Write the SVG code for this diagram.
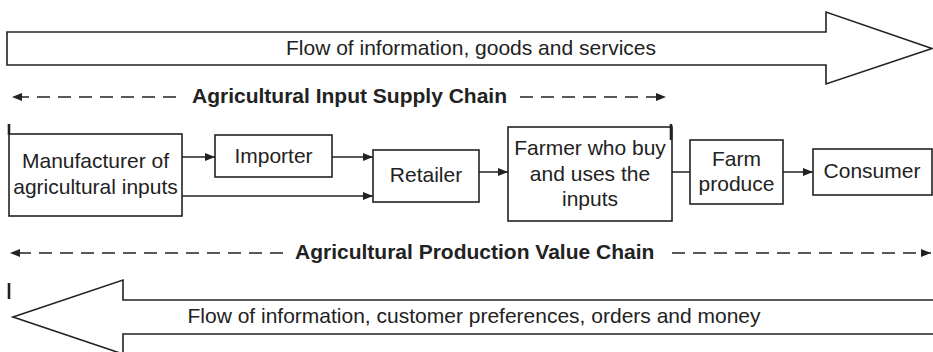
<svg xmlns="http://www.w3.org/2000/svg" width="933" height="352" viewBox="0 0 933 352">
<style>
.box{fill:#fff;stroke:#222;stroke-width:1.6}
.big{fill:#fff;stroke:#222;stroke-width:1.6;stroke-linejoin:miter}
.t{font-family:"Liberation Sans",Arial,sans-serif;font-size:21px;fill:#222;text-anchor:middle}
.b{font-family:"Liberation Sans",Arial,sans-serif;font-size:21px;font-weight:bold;fill:#222}
.ln{stroke:#222;stroke-width:1.5;fill:none}
.dash{stroke:#222;stroke-width:1.6;fill:none;stroke-dasharray:13 8}
.tick{stroke:#222;stroke-width:2.6}
</style>
<defs>
<marker id="ah" viewBox="0 0 10 8" refX="10" refY="4" markerWidth="10" markerHeight="8" markerUnits="userSpaceOnUse" orient="auto">
<path d="M0,0 L10,4 L0,8 Z" fill="#222"/>
</marker>
</defs>

<g id="flow-top">
<path class="big" d="M7,32 L826,32 L826,12 L932,48.5 L826,84 L826,65 L7,65 Z"/>
<text class="t" x="471" y="55">Flow of information, goods and services</text>
</g>

<g id="input-chain">
<line class="dash" x1="176" y1="97" x2="12" y2="97" marker-end="url(#ah)"/>
<text class="b" x="192" y="103">Agricultural Input Supply Chain</text>
<line class="dash" x1="520" y1="97" x2="666" y2="97" marker-end="url(#ah)"/>
</g>

<g id="manufacturer">
<line class="tick" x1="9" y1="124" x2="9" y2="135"/>
<rect class="box" x="9" y="134" width="173" height="82"/>
<text class="t" x="95.5" y="168">Manufacturer of</text>
<text class="t" x="95.5" y="194">agricultural inputs</text>
</g>

<g id="importer">
<rect class="box" x="215" y="135" width="117" height="42"/>
<text class="t" x="273.5" y="163">Importer</text>
</g>

<g id="retailer">
<rect class="box" x="373" y="150" width="106" height="52"/>
<text class="t" x="426" y="182">Retailer</text>
</g>

<g id="farmer">
<rect class="box" x="508" y="127" width="164" height="94"/>
<line class="tick" x1="671" y1="124" x2="671" y2="140"/>
<text class="t" x="590" y="155">Farmer who buy</text>
<text class="t" x="590" y="181">and uses the</text>
<text class="t" x="590" y="206">inputs</text>
</g>

<g id="farm-produce">
<rect class="box" x="690" y="140" width="93" height="64"/>
<text class="t" x="736.5" y="166">Farm</text>
<text class="t" x="736.5" y="191">produce</text>
</g>

<g id="consumer">
<rect class="box" x="813" y="149" width="119" height="46"/>
<text class="t" x="872" y="178">Consumer</text>
</g>

<g id="connectors">
<line class="ln" x1="182" y1="157" x2="215" y2="157" marker-end="url(#ah)"/>
<line class="ln" x1="182" y1="196" x2="373" y2="196" marker-end="url(#ah)"/>
<line class="ln" x1="332" y1="157" x2="373" y2="157" marker-end="url(#ah)"/>
<line class="ln" x1="479" y1="172" x2="508" y2="172" marker-end="url(#ah)"/>
<line class="ln" x1="672" y1="172" x2="690" y2="172"/>
<line class="ln" x1="783" y1="172" x2="813" y2="172" marker-end="url(#ah)"/>
</g>

<g id="production-chain">
<line class="dash" x1="283" y1="253" x2="10" y2="253" marker-end="url(#ah)"/>
<text class="b" x="295" y="259">Agricultural Production Value Chain</text>
<line class="dash" x1="672" y1="253" x2="931" y2="253" marker-end="url(#ah)"/>
</g>

<g id="flow-bottom">
<line class="tick" x1="9" y1="283" x2="9" y2="299"/>
<path class="big" d="M940,300 L123,300 L123,280 L13,317 L123,354 L123,334 L940,334"/>
<text class="t" x="474" y="323">Flow of information, customer preferences, orders and money</text>
</g>
</svg>
